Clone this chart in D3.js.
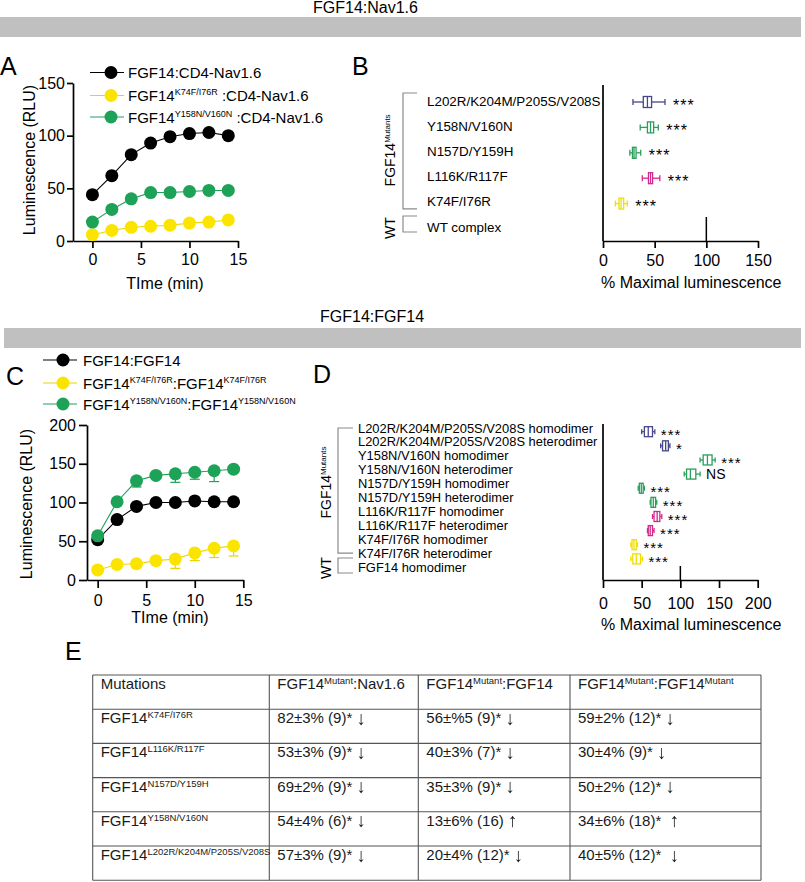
<!DOCTYPE html>
<html><head><meta charset="utf-8">
<script src="https://cdn.jsdelivr.net/npm/d3@7"></script>
<style>
body{margin:0;background:#fff}
svg{display:block;font-family:"Liberation Sans",Arial,Helvetica,sans-serif}
</style></head><body>
<svg id="fig" width="805" height="882"><defs><filter id="gray" x="0" y="0" width="1" height="1"><feOffset dx="0" dy="0"/></filter></defs></svg>
<script>
// ---------------- DATA ----------------
const timeMin = [0,2,4,6,8,10,12,14];
const timeTicks = [0,5,10,15];

// Panel A : FGF14:Nav1.6 kinetics (RLU)
const navWT    = [44,62,82,93,99,102,103,100];
const navK74F  = [6,10,13,14,15,17,18,20];
const navY158N = [18,30,40,46,46,47,48,48];
const navYTicks = [0,50,100,150];

// Panel C : FGF14:FGF14 kinetics (RLU)
const dimWT       = [52,78,95,100,100,102,101,101];
const dimWTerr    = [2,2,2,2,2,2,2,2];
const dimK74F     = [13,20,21,25,27,35,41,44];
const dimK74Ferr  = [2,5,4,3,12,10,12,13];
const dimY158N    = [57,101,128,135,137,139,141,143];
const dimY158Nerr = [3,4,8,4,11,9,14,4];
const dimYTicks = [0,50,100,150,200];

// Panel B : % maximal luminescence, FGF14 mutants : Nav1.6
const navCats = ["L202R/K204M/P205S/V208S","Y158N/V160N","N157D/Y159H","L116K/R117F","K74F/I76R","WT complex"];
const navMin  = [29,36,26,38,12];
const navQ1   = [39,43,28.5,44,15.5];
const navMed  = [43,46,30,46,17.5];
const navQ3   = [47,49,32,48,20];
const navMax  = [60,53.5,36.5,55,23.5];
const navSig  = ["***","***","***","***","***"];
const navGroup = ["navy","green","green","magenta","yellow"];
const navWTval = 100;
const navXTicks = [0,50,100,150];

// Panel D : % maximal luminescence, FGF14 dimers
const dimCats = ["L202R/K204M/P205S/V208S homodimer","L202R/K204M/P205S/V208S heterodimer",
  "Y158N/V160N homodimer","Y158N/V160N heterodimer","N157D/Y159H homodimer","N157D/Y159H heterodimer",
  "L116K/R117F homodimer","L116K/R117F heterodimer","K74F/I76R homodimer","K74F/I76R heterodimer","FGF14 homodimer"];
const dimMin = [50,74.5,125.5,105,45.5,61,64,57.5,36,36];
const dimQ1  = [53.5,77,129.5,108,47,62,66,58.5,37.5,38.5];
const dimMed = [58.5,81,135,113,49.5,65,70,61,40,43];
const dimQ3  = [64,84.5,141,120,52,68,73.5,64,43,48.5];
const dimMax = [67,86.5,145,125.5,53.5,69.5,76,66,44.5,51];
const dimSig = ["***","*","***","NS","***","***","***","***","***","***"];
const dimGroup = ["navy","navy","green","green","green","green","magenta","magenta","yellow","yellow"];
const dimWTval = 100;
const dimXTicks = [0,50,100,150,200];

// Panel E : table
const tableMutations = ["K74F/I76R","L116K/R117F","N157D/Y159H","Y158N/V160N","L202R/K204M/P205S/V208S"];
const colNav  = ["82±3% (9)* ↓","53±3% (9)* ↓","69±2% (9)* ↓","54±4% (6)* ↓","57±3% (9)* ↓"];
const colFGF  = ["56±%5 (9)* ↓","40±3% (7)* ↓","35±3% (9)* ↓","13±6% (16) ↑","20±4% (12)* ↓"];
const colHomo = ["59±2% (12)* ↓","30±4% (9)* ↓","50±2% (12)* ↓","34±6% (18)*  ↑","40±5% (12)*  ↓"];

// ---------------- STYLE ----------------
const C = {black:"#000", yellow:"#fbe500", yellowLine:"#e9d600", green:"#1ea257",
           navy:"#46468c", bgreen:"#2a9f5c", magenta:"#d1288b", ybox:"#f0df00", gray:"#c0c0c0"};
const boxColor = {navy:C.navy, green:C.bgreen, magenta:C.magenta, yellow:C.ybox};

const svg = d3.select("#fig");

function rich(text, parts, supSize, shift){
  let prevSup = false;
  parts.forEach(p=>{
    const t = text.append("tspan").text(p.t);
    if (p.sup){ t.attr("font-size", supSize).attr("dy", -shift); prevSup = true; }
    else if (prevSup){ t.attr("dy", shift); prevSup = false; }
  });
  return text;
}
function styleAxis(g, fs){
  g.selectAll("path,line").attr("stroke","#000").attr("stroke-width",1.7);
  g.selectAll("text").attr("font-size",fs).attr("font-family",'"Liberation Sans",Arial,sans-serif').attr("fill","#000");
}

// ---------------- HEADERS ----------------
svg.append("rect").attr("x",0).attr("y",17).attr("width",801).attr("height",20).attr("fill",C.gray);
svg.append("text").attr("x",313).attr("y",13).attr("font-size",16).text("FGF14:Nav1.6");
svg.append("rect").attr("x",4).attr("y",328).attr("width",797).attr("height",20).attr("fill",C.gray);
svg.append("text").attr("x",320).attr("y",322).attr("font-size",16).text("FGF14:FGF14");

const panelLab = [["A",0,75],["B",352,75],["C",6,385],["D",313,383],["E",65,660]];
panelLab.forEach(([t,x,y])=>svg.append("text").attr("x",x).attr("y",y).attr("font-size",25).text(t));

// ---------------- LINE PANELS ----------------
function linePanel(o){
  const g = svg.append("g");
  const y0 = o.y.range()[0];
  const xa = g.append("g").attr("transform",`translate(0,${y0})`)
    .call(d3.axisBottom(o.x).tickValues(timeTicks).tickSize(o.xt).tickPadding(o.xp).tickSizeOuter(0));
  styleAxis(xa,16);
  const ya = g.append("g").attr("transform",`translate(${o.x.range()[0]},0)`)
    .call(d3.axisLeft(o.y).tickValues(o.yTicks).tickSize(o.yt).tickPadding(o.yp).tickSizeOuter(0));
  styleAxis(ya,16);
  g.append("text").attr("transform",`translate(${o.ylx},${o.yly}) rotate(-90)`).attr("text-anchor","middle")
    .attr("font-size",16).text("Luminescence (RLU)");
  g.append("text").attr("x",o.xlx).attr("y",o.xly).attr("text-anchor","middle").attr("font-size",16).text("TIme (min)");
  const line = d3.line().x((d,i)=>o.x(timeMin[i])).y(d=>o.y(d));
  o.series.forEach(s=>{
    if (s.err){
      const eg = g.append("g").attr("stroke",s.line).attr("stroke-width",1.2);
      s.vals.forEach((v,i)=>{
        const xx = o.x(timeMin[i]), yb = o.y(v - s.err[i]);
        eg.append("line").attr("x1",xx).attr("x2",xx).attr("y1",o.y(v)).attr("y2",yb);
        eg.append("line").attr("x1",xx-5).attr("x2",xx+5).attr("y1",yb).attr("y2",yb);
      });
    }
    g.append("path").datum(s.vals).attr("d",line).attr("fill","none").attr("stroke",s.line).attr("stroke-width",1.1);
    g.selectAll(null).data(s.vals).enter().append("circle")
      .attr("cx",(d,i)=>o.x(timeMin[i])).attr("cy",d=>o.y(d)).attr("r",6.5).attr("fill",s.fill);
  });
  o.legend.forEach((l,k)=>{
    const ly = o.legY[k];
    g.append("line").attr("x1",o.legX).attr("x2",o.legX+34).attr("y1",ly).attr("y2",ly).attr("stroke",l.line).attr("stroke-width",1.1);
    g.append("circle").attr("cx",o.legX+o.legM).attr("cy",ly).attr("r",6.5).attr("fill",l.fill);
    rich(g.append("text").attr("x",o.legTx).attr("y",ly+5.5).attr("font-size",15), l.parts, 9, 6);
  });
}

linePanel({
  x: d3.scaleLinear([-2,15],[73,238]), y: d3.scaleLinear([0,150],[241,83]),
  yTicks: navYTicks, xt:7, xp:6, yt:6, yp:2,
  ylx:35, yly:160, xlx:165, xly:289,
  series:[
    {vals:navWT, line:C.black, fill:C.black},
    {vals:navK74F, line:C.yellowLine, fill:C.yellow},
    {vals:navY158N, line:C.green, fill:C.green}],
  legX:90, legM:21, legTx:128, legY:[72.5,95.5,117],
  legend:[
    {line:C.black, fill:C.black, parts:[{t:"FGF14:CD4-Nav1.6"}]},
    {line:C.yellowLine, fill:C.yellow, parts:[{t:"FGF14"},{t:"K74F/I76R",sup:1},{t:" :CD4-Nav1.6"}]},
    {line:C.green, fill:C.green, parts:[{t:"FGF14"},{t:"Y158N/V160N",sup:1},{t:" :CD4-Nav1.6"}]}]
});

linePanel({
  x: d3.scaleLinear([-1.1,15],[87,243.3]), y: d3.scaleLinear([0,200],[580,425]),
  yTicks: dimYTicks, xt:8, xp:7, yt:8, yp:3,
  ylx:32, yly:504, xlx:170, xly:623,
  series:[
    {vals:dimWT, err:dimWTerr, line:C.black, fill:C.black},
    {vals:dimK74F, err:dimK74Ferr, line:C.yellowLine, fill:C.yellow},
    {vals:dimY158N, err:dimY158Nerr, line:C.green, fill:C.green}],
  legX:43, legM:20, legTx:83, legY:[360,383,404],
  legend:[
    {line:C.black, fill:C.black, parts:[{t:"FGF14:FGF14"}]},
    {line:C.yellowLine, fill:C.yellow, parts:[{t:"FGF14"},{t:"K74F/I76R",sup:1},{t:":FGF14"},{t:"K74F/I76R",sup:1}]},
    {line:C.green, fill:C.green, parts:[{t:"FGF14"},{t:"Y158N/V160N",sup:1},{t:":FGF14"},{t:"Y158N/V160N",sup:1}]}]
});

// ---------------- BOX PANELS ----------------
function boxPanel(o){
  const g = svg.append("g");
  const xa = g.append("g").attr("transform",`translate(0,${o.axisY})`)
    .call(d3.axisBottom(o.x).tickValues(o.ticks).tickSize(o.tl).tickPadding(o.tp).tickSizeOuter(0));
  styleAxis(xa,16);
  g.append("line").attr("x1",o.x(0)).attr("x2",o.x(0)).attr("y1",o.axisTop).attr("y2",o.axisY).attr("stroke","#000").attr("stroke-width",1.7);
  g.append("text").attr("x",o.x(0)-2).attr("y",o.titleY).attr("font-size",16).text("% Maximal luminescence");
  o.min.forEach((mn,i)=>{
    const c = o.cats[i], yc = o.y(c), col = boxColor[o.group[i]];
    const bg = g.append("g").attr("stroke",col).attr("stroke-width",1.3).attr("fill","none");
    bg.append("line").attr("x1",o.x(mn)).attr("x2",o.x(o.q1[i])).attr("y1",yc).attr("y2",yc);
    bg.append("line").attr("x1",o.x(o.q3[i])).attr("x2",o.x(o.max[i])).attr("y1",yc).attr("y2",yc);
    [mn,o.max[i]].forEach(v=>bg.append("line").attr("x1",o.x(v)).attr("x2",o.x(v)).attr("y1",yc-o.cap/2).attr("y2",yc+o.cap/2));
    bg.append("rect").attr("x",o.x(o.q1[i])).attr("y",yc-o.bh/2).attr("width",o.x(o.q3[i])-o.x(o.q1[i])).attr("height",o.bh).attr("fill","#fff");
    bg.append("line").attr("x1",o.x(o.med[i])).attr("x2",o.x(o.med[i])).attr("y1",yc-o.bh/2).attr("y2",yc+o.bh/2);
    const s = o.sig[i];
    g.append("text").attr("x",o.x(o.max[i])+o.sgap).attr("y",s==="NS"?yc+5:yc+8.5)
      .attr("font-size",s==="NS"?14:o.sfs).attr("letter-spacing",s==="NS"?0:1).text(s);
  });
  const wc = o.cats[o.cats.length-1];
  g.append("line").attr("x1",o.x(o.wt)).attr("x2",o.x(o.wt)).attr("y1",o.y(wc)-o.wtUp).attr("y2",o.axisY)
    .attr("stroke","#000").attr("stroke-width",1.5);
  o.cats.forEach(c=>g.append("text").attr("x",o.labX).attr("y",o.yl(c)).attr("dy","0.35em").attr("font-size",o.lfs).text(c));
  const bx = o.brX, bw = o.brW;
  const br = (y1,y2)=>g.append("path").attr("d",`M${bx+bw},${y1}H${bx}V${y2}H${bx+bw}`)
    .attr("fill","none").attr("stroke","#8a8a8a").attr("stroke-width",1.2);
  br(o.yl(o.cats[0])+o.br1[0], o.yl(o.cats[o.cats.length-2])+o.br1[1]);
  br(o.yl(wc)+o.br2[0], o.yl(wc)+o.br2[1]);
  const m = o.cats.length-2;
  const midMut = (o.yl(o.cats[0])+o.yl(o.cats[m]))/2;
  rich(g.append("text").attr("transform",`translate(${o.rotX},${midMut+o.rotOff}) rotate(-90)`).attr("text-anchor","middle").attr("font-size",14),
    [{t:"FGF14"},{t:"Mutants",sup:1}], 8, 5);
  g.append("text").attr("transform",`translate(${o.rotX},${o.yl(wc)+1}) rotate(-90)`).attr("text-anchor","middle").attr("font-size",14).text("WT");
}

boxPanel({
  cats:navCats, min:navMin, q1:navQ1, med:navMed, q3:navQ3, max:navMax, sig:navSig, group:navGroup, wt:navWTval,
  x:d3.scaleLinear([0,150],[603,758]), y:d3.scalePoint(navCats,[102,229]), yl:d3.scalePoint(navCats,[101,227]),
  ticks:navXTicks, axisY:241, axisTop:85, tl:7, tp:7, titleY:288,
  bh:11, cap:6, sgap:8, sfs:16, wtUp:12, labX:427, lfs:13.4,
  brX:403, brW:14, br1:[-8,7], br2:[-11,5], rotX:395, rotOff:-1
});

boxPanel({
  cats:dimCats, min:dimMin, q1:dimQ1, med:dimMed, q3:dimQ3, max:dimMax, sig:dimSig, group:dimGroup, wt:dimWTval,
  x:d3.scaleLinear([0,200],[603,757.7]), y:d3.scalePoint(dimCats,[431.7,573]), yl:d3.scalePoint(dimCats,[428,567]),
  ticks:dimXTicks, axisY:580, axisTop:424, tl:8, tp:10, titleY:630,
  bh:10, cap:5, sgap:6, sfs:15, wtUp:7, labX:358, lfs:12.9,
  brX:338, brW:15, br1:[0,0], br2:[-9,6], rotX:331, rotOff:-8
});

// ---------------- TABLE ----------------
const tg = svg.append("g");
const colX = [92.7,269.3,418.3,570,761];
const rowH = 34.2, tTop = 675, nRows = tableMutations.length + 1;
const rowY = d3.range(nRows+1).map(i=>tTop+i*rowH);
rowY.forEach(y=>tg.append("line").attr("x1",colX[0]).attr("x2",colX[4]).attr("y1",y).attr("y2",y).attr("stroke","#555").attr("stroke-width",1.1));
colX.forEach(x=>tg.append("line").attr("x1",x).attr("x2",x).attr("y1",rowY[0]).attr("y2",rowY[nRows]).attr("stroke","#555").attr("stroke-width",1.1));
const cell = (ci,ri)=>tg.append("text").attr("x",colX[ci]+8).attr("y",rowY[ri]+14).attr("font-size",15)
  .attr("fill","#1a1a1a").style("white-space","pre");
function valueCell(ci, ri, s){
  const arrow = s.slice(-1), body = s.slice(0,-1);
  const t = cell(ci, ri).text(body);
  const w = t.node().getComputedTextLength();
  tg.append("text").attr("x",colX[ci]+8+w).attr("y",rowY[ri]+15.5).attr("font-size",19)
    .attr("fill","#1a1a1a").attr("filter","url(#gray)").text(arrow);
}
const headers = [
  [{t:"Mutations"}],
  [{t:"FGF14"},{t:"Mutant",sup:1},{t:":Nav1.6"}],
  [{t:"FGF14"},{t:"Mutant",sup:1},{t:":FGF14"}],
  [{t:"FGF14"},{t:"Mutant",sup:1},{t:":FGF14"},{t:"Mutant",sup:1}]];
headers.forEach((h,ci)=>rich(cell(ci,0),h,9.5,5));
tableMutations.forEach((m,i)=>{
  rich(cell(0,i+1),[{t:"FGF14"},{t:m,sup:1}],9.5,5);
  valueCell(1, i+1, colNav[i]);
  valueCell(2, i+1, colFGF[i]);
  valueCell(3, i+1, colHomo[i]);
});
</script>
</body></html>
